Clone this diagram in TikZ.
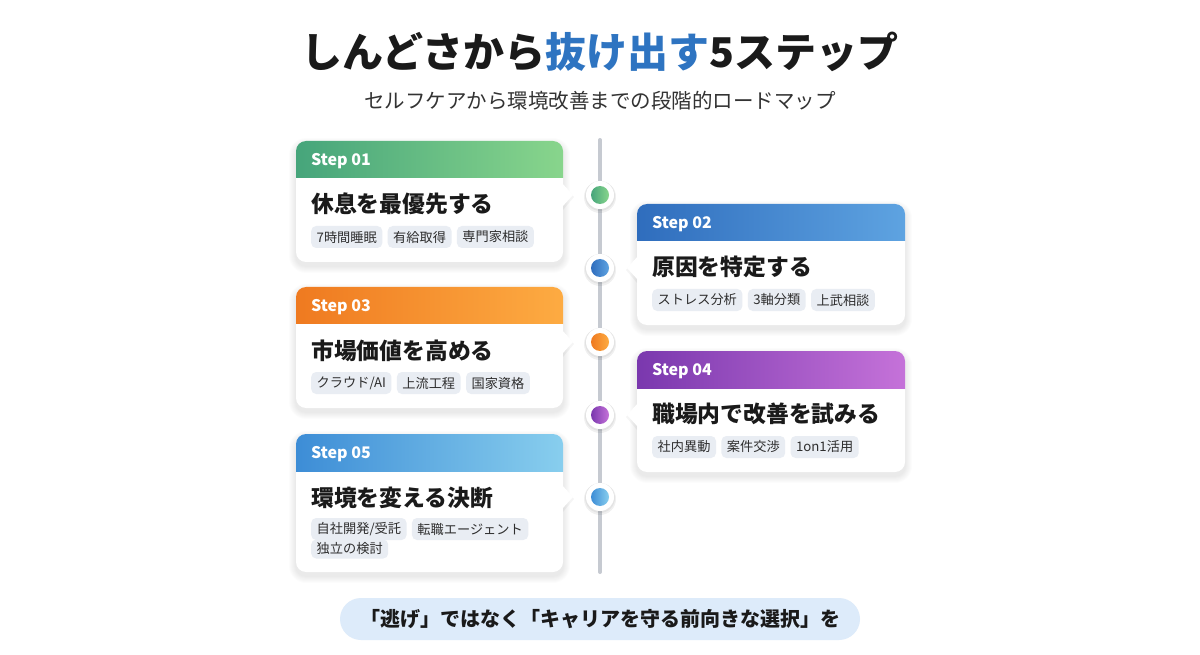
\documentclass[tikz,border=0pt]{standalone}
\usepackage{fontspec}
\setmainfont{Noto Sans CJK JP}
\usetikzlibrary{positioning}
\definecolor{textdark}{HTML}{1A1A1A}
\definecolor{subtext}{HTML}{333333}
\definecolor{tagfill}{HTML}{E9EDF3}
\definecolor{tagtext}{HTML}{2E2E2E}
\definecolor{titleblue}{HTML}{2E74C1}
\definecolor{linegray}{HTML}{C6CAD1}
\definecolor{bannerfill}{HTML}{DDEBFA}
\definecolor{gAl}{HTML}{46A57B}\definecolor{gAr}{HTML}{88D58C}
\definecolor{gBl}{HTML}{2F6DBD}\definecolor{gBr}{HTML}{5EA3E1}
\definecolor{gCl}{HTML}{EF7A20}\definecolor{gCr}{HTML}{FDAB42}
\definecolor{gDl}{HTML}{7A38AE}\definecolor{gDr}{HTML}{C572D9}
\definecolor{gEl}{HTML}{3D8DD6}\definecolor{gEr}{HTML}{88CEEE}
\newcommand\softshadow[4]{%
  \foreach \i in {1,...,7} {\fill[black,opacity=0.011,rounded corners=10+\i] (#1-\i,#2-\i+4) rectangle (#3+\i,#4+\i+4);}%
}
\newcommand\drawcard[7]{%
  \softshadow{#1}{#2}{#3}{#4}
  \fill[white,rounded corners=10] (#1,#2) rectangle (#3,#4);
  \begin{scope}
    \clip[rounded corners=10] (#1,#2) rectangle (#3,#4);
    \shade[left color=#6,right color=#7] (#1,#2) rectangle (#3,#5);
  \end{scope}
}
\newcommand\pointer[3]{% base x, y, tip direction (+1 right, -1 left)
  \fill[black,opacity=0.04] (#1,#2-13+2) -- (#1+#3*11,#2+2) -- (#1,#2+13+2) -- cycle;
  \fill[white] (#1-#3*1,#2-12) -- (#1+#3*10,#2) -- (#1-#3*1,#2+12) -- cycle;
}
\newcommand\tldot[3]{% y, left color, right color
  \fill[black,opacity=0.06] (600,#1+2) circle (16);
  \fill[black,opacity=0.05] (600,#1+1) circle (15);
  \fill[white] (600,#1) circle (14);
  \shade[left color=#2,right color=#3] (600,#1) circle (9);
}
\tikzset{
  steplabel/.style={text=white,font=\bfseries\fontsize{16}{16}\selectfont,anchor=west,inner sep=0pt},
  cardtitle/.style={text=textdark,font=\bfseries\fontsize{22.8}{22.8}\selectfont,anchor=west,inner sep=0pt},
  tagbox/.style={fill=tagfill,rounded corners=5,text=tagtext,font=\fontsize{13.2}{13.2}\selectfont,inner xsep=5.5pt,inner ysep=0pt,minimum height=22pt,anchor=west},
  tagnext/.style={tagbox,right=5pt of #1},
  dotname/.style={circle,minimum size=28pt,inner sep=0pt},
}
\begin{document}
\begin{tikzpicture}[x=1pt,y=-1pt]
\useasboundingbox (0,0) rectangle (1200,655);
\fill[white] (0,0) rectangle (1200,655);

% title
\node (title) at (600,52) [text=textdark,font=\bfseries\fontsize{41}{41}\selectfont,inner sep=0pt] {しんどさから\textcolor{titleblue}{抜け出す}5ステップ};
\node (subtitle) at (600,101) [text=subtext,font=\fontsize{20.5}{20.5}\selectfont,inner sep=0pt] {セルフケアから環境改善までの段階的ロードマップ};

% timeline
\coordinate (ltop) at (600,140);
\coordinate (lbot) at (600,572);
\draw[linegray,line width=4pt,line cap=round] (ltop) -- (lbot);

% cards
\drawcard{296}{141}{563}{262}{178}{gAl}{gAr}
\pointer{563}{195}{1}
\drawcard{637}{204}{905}{325}{241}{gBl}{gBr}
\pointer{637}{268}{-1}
\drawcard{296}{287}{563}{408}{323}{gCl}{gCr}
\pointer{563}{342}{1}
\drawcard{637}{351}{905}{472}{388}{gDl}{gDr}
\pointer{637}{415}{-1}
\drawcard{296}{434}{563}{572}{471}{gEl}{gEr}
\pointer{563}{497}{1}

% dots
\tldot{195}{gAl}{gAr}
\tldot{268}{gBl}{gBr}
\tldot{342}{gCl}{gCr}
\tldot{415}{gDl}{gDr}
\tldot{497}{gEl}{gEr}
\node (d1) [dotname] at (600,195) {};
\node (d2) [dotname] at (600,268) {};
\node (d3) [dotname] at (600,342) {};
\node (d4) [dotname] at (600,415) {};
\node (d5) [dotname] at (600,497) {};

% card 1
\node (s1) [steplabel] at (311,161) {Step 01};
\node (h1) [cardtitle] at (311,204) {休息を最優先する};
\node (t11) [tagbox] at (311,237) {7時間睡眠};
\node (t12) [tagnext=t11] {有給取得};
\node (t13) [tagnext=t12] {専門家相談};

% card 2
\node (s2) [steplabel] at (652,224) {Step 02};
\node (h2) [cardtitle] at (652,267) {原因を特定する};
\node (t21) [tagbox] at (652,300) {ストレス分析};
\node (t22) [tagnext=t21] {3軸分類};
\node (t23) [tagnext=t22] {上武相談};

% card 3
\node (s3) [steplabel] at (311,307) {Step 03};
\node (h3) [cardtitle] at (311,351) {市場価値を高める};
\node (t31) [tagbox] at (311,383) {クラウド/AI};
\node (t32) [tagnext=t31] {上流工程};
\node (t33) [tagnext=t32] {国家資格};

% card 4
\node (s4) [steplabel] at (652,371) {Step 04};
\node (h4) [cardtitle] at (652,414) {職場内で改善を試みる};
\node (t41) [tagbox] at (652,447) {社内異動};
\node (t42) [tagnext=t41] {案件交渉};
\node (t43) [tagnext=t42] {1on1活用};

% card 5
\node (s5) [steplabel] at (311,454) {Step 05};
\node (h5) [cardtitle] at (311,498) {環境を変える決断};
\node (t51) [tagbox] at (311,529) {自社開発/受託};
\node (t52) [tagnext=t51] {転職エージェント};
\node (t53) [tagbox,minimum height=19pt] at (311,549) {独立の検討};

% banner
\node (banner) at (600,619) [fill=bannerfill,rounded corners=21,minimum width=520pt,minimum height=42pt,inner sep=0pt,text=textdark,font=\bfseries\fontsize{20}{20}\selectfont] {「逃げ」ではなく「キャリアを守る前向きな選択」を};
\end{tikzpicture}
\end{document}
